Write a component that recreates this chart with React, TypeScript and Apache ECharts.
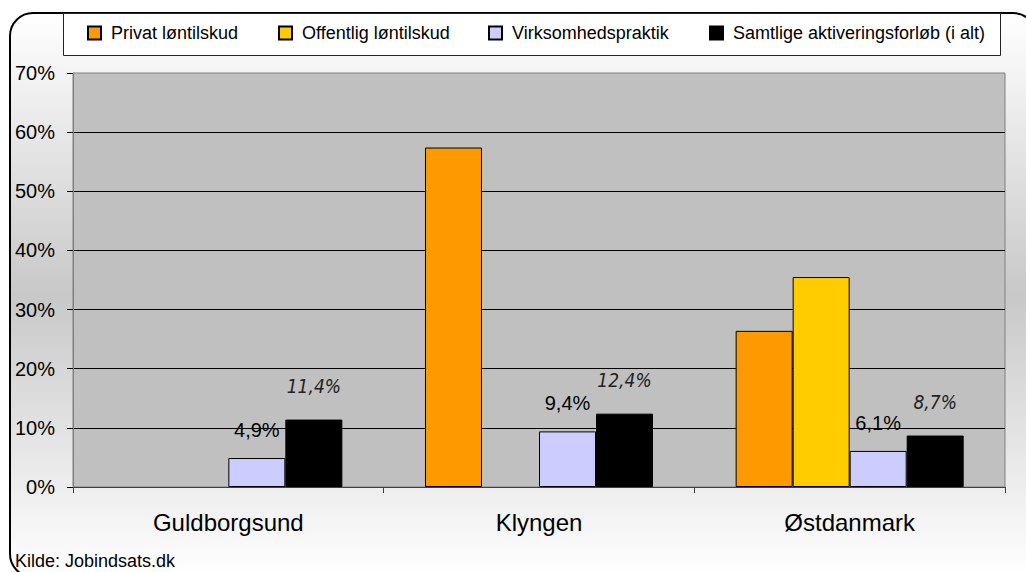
import React, { useEffect, useRef } from "react";
import * as echarts from "echarts";

const categories = ["Guldborgsund", "Klyngen", "Østdanmark"];
const seriesNames = [
  "Privat løntilskud",
  "Offentlig løntilskud",
  "Virksomhedspraktik",
  "Samtlige aktiveringsforløb (i alt)",
];
const privatValues: (number | null)[] = [null, 57.4, 26.4];
const offentligValues: (number | null)[] = [null, null, 35.5];
const virksomhedValues: (number | null)[] = [4.9, 9.4, 6.1];
const samtligeValues: (number | null)[] = [11.4, 12.4, 8.7];
const yTicks = [0, 10, 20, 30, 40, 50, 60, 70];
const sourceText = "Kilde: Jobindsats.dk";

const FONT = '"Liberation Sans", Arial, sans-serif';
const NARROW = '"Liberation Sans Narrow", "DejaVu Sans Condensed", "Liberation Sans", sans-serif';

const fmt = (v: number) => v.toFixed(1).replace(".", ",") + "%";

export default function App() {
  const ref = useRef<HTMLDivElement>(null);
  useEffect(() => {
    if (!ref.current) return;
    const chart = echarts.init(ref.current, undefined, { renderer: "svg" });
    const colors = ["#FF9900", "#FFCC00", "#CCCCFF", "#000000"];
    const values = [privatValues, offentligValues, virksomhedValues, samtligeValues];
    const legendLefts = [87, 278, 488, 709];
    const option: any = {
      animation: false,
      textStyle: { fontFamily: FONT },
      grid: {
        left: 73,
        right: 21,
        top: 73,
        bottom: 85,
        show: true,
        backgroundColor: "#c0c0c0",
        borderColor: "#808080",
        borderWidth: 1,
      },
      legend: seriesNames.map((n, i) => ({
        data: [n],
        left: legendLefts[i],
        top: 24,
        padding: 0,
        itemWidth: 13,
        itemHeight: 13,
        icon: "rect",
        selectedMode: false,
        textStyle: { fontSize: 18, color: "#000", fontFamily: FONT, padding: [0, 0, 0, 5] },
      })),
      xAxis: {
        type: "category",
        data: categories,
        axisLine: { show: true, lineStyle: { color: "#404040", width: 1 } },
        axisTick: { show: true, length: 6, interval: 0, lineStyle: { color: "#404040" } },
        axisLabel: { fontSize: 24, color: "#000", margin: 23, fontFamily: FONT },
        splitLine: { show: false },
      },
      yAxis: {
        type: "value",
        min: yTicks[0],
        max: yTicks[yTicks.length - 1],
        interval: yTicks[1] - yTicks[0],
        axisLine: { show: true, lineStyle: { color: "#808080" } },
        axisTick: { show: true, length: 6, lineStyle: { color: "#000" } },
        axisLabel: { formatter: "{value}%", fontSize: 20, color: "#000", margin: 18, fontFamily: FONT },
        splitLine: { show: true, showMinLine: false, showMaxLine: false, lineStyle: { color: "#000", width: 1 } },
      },
      series: seriesNames.map((n, i) => {
        const s: any = {
          name: n,
          type: "bar",
          data: values[i],
          barGap: "0%",
          barCategoryGap: "26.6%",
          itemStyle: { color: colors[i], borderColor: "#000", borderWidth: 1 },
        };
        if (i === 2) {
          s.label = {
            show: true,
            position: "top",
            distance: 18,
            fontSize: 20,
            color: "#000",
            fontFamily: FONT,
            formatter: (p: any) => fmt(p.value),
          };
        }
        if (i === 3) {
          s.label = {
            show: true,
            position: "top",
            distance: 24,
            fontSize: 19,
            fontStyle: "italic",
            color: "#222",
            fontFamily: NARROW,
            formatter: (p: any) => fmt(p.value),
          };
        }
        return s;
      }),
      graphic: [
        {
          type: "rect",
          z: -10,
          shape: { x: 63.5, y: 13.5, width: 937, height: 42 },
          style: { fill: "#fff", stroke: "#222", lineWidth: 1 },
        },
        {
          type: "text",
          left: 15,
          top: 552,
          style: { text: sourceText, fontSize: 18, fill: "#000", fontFamily: FONT },
        },
      ],
    };
    chart.setOption(option);
    return () => chart.dispose();
  }, []);

  return (
    <div style={{ position: "fixed", left: 0, top: 0, width: 1026, height: 572, background: "#fff", overflow: "hidden" }}>
      <div
        style={{
          position: "absolute",
          left: 9,
          top: 12,
          width: 1024,
          height: 562,
          border: "2px solid #000",
          borderRadius: 24,
          background: "linear-gradient(to bottom, #ffffff 0%, #c8c8c8 50%, #ffffff 100%)",
        }}
      />
      <div ref={ref} style={{ position: "absolute", left: 0, top: 0, width: 1026, height: 572 }} />
    </div>
  );
}
